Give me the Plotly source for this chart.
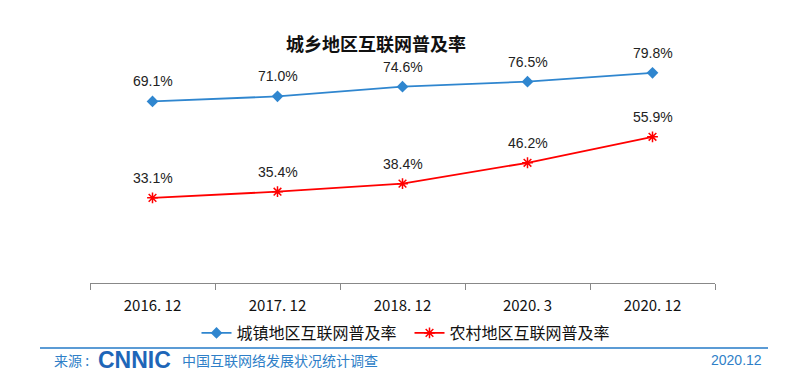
import plotly.graph_objects as go

categories = ["2016. 12", "2017. 12", "2018. 12", "2020. 3", "2020. 12"]
urban = [69.1, 71.0, 74.6, 76.5, 79.8]
rural = [33.1, 35.4, 38.4, 46.2, 55.9]
urban_name = "城镇地区互联网普及率"
rural_name = "农村地区互联网普及率"
title = "城乡地区互联网普及率"

FONT = "Noto Sans CJK SC"
OFF = 8  # default page body margin
W, H = 800 - OFF, 381 - OFF
ML, MR, MT, MB = 90 - OFF, 85, 42 - OFF, 98
PW = W - ML - MR
PH = H - MT - MB

def py(Y):  # target page pixel y -> paper y
    return (H - MB - (Y - OFF)) / PH

def px(X):
    return (X - OFF - ML) / PW

fig = go.Figure()

fig.add_trace(go.Scatter(x=categories, y=urban, name=urban_name, mode="lines+markers",
                         line=dict(color="#2f86cf", width=1.8),
                         marker=dict(symbol="diamond", size=9, color="#2f86cf")))
fig.add_trace(go.Scatter(x=categories, y=rural, name=rural_name, mode="lines+markers",
                         line=dict(color="#ff0000", width=1.8),
                         marker=dict(symbol="asterisk-open", size=9, color="#ff0000",
                                     line=dict(color="#ff0000", width=1.5))))

ann = []
for c, v in zip(categories, urban):
    ann.append(dict(x=c, y=v, text=f"{v:.1f}%", showarrow=False, yshift=20,
                    font=dict(family="Liberation Sans", size=14, color="#222")))
for c, v in zip(categories, rural):
    ann.append(dict(x=c, y=v, text=f"{v:.1f}%", showarrow=False, yshift=20,
                    font=dict(family="Liberation Sans", size=14, color="#222")))

ann.append(dict(x=px(376), y=py(43), xref="paper", yref="paper", text=f"<b>{title}</b>",
                yanchor="middle", showarrow=False, font=dict(family=FONT, size=18, color="#111")))
# footer
ann.append(dict(x=px(52), y=py(360), xref="paper", yref="paper", text="来源 :",
                xanchor="left", yanchor="middle", showarrow=False,
                font=dict(family=FONT, size=14, color="#2f7fc8")))
ann.append(dict(x=px(96), y=py(360), xref="paper", yref="paper", text="<b>CNNIC</b>",
                xanchor="left", yanchor="middle", showarrow=False,
                font=dict(family="Liberation Sans", size=23, color="#1e66b8")))
ann.append(dict(x=px(180), y=py(360), xref="paper", yref="paper", text="中国互联网络发展状况统计调查",
                xanchor="left", yanchor="middle", showarrow=False,
                font=dict(family=FONT, size=14, color="#2f7fc8")))
ann.append(dict(x=px(764), y=py(360), xref="paper", yref="paper", text="2020.12",
                xanchor="right", yanchor="middle", showarrow=False,
                font=dict(family="Liberation Sans", size=14, color="#2f7fc8")))

fig.update_layout(
    width=W, height=H,
    margin=dict(l=ML, r=MR, t=MT, b=MB, autoexpand=False),
    paper_bgcolor="white", plot_bgcolor="white",
    showlegend=True,
    legend=dict(orientation="h", x=0.5 + 7 / PW, xanchor="center", y=py(316), yanchor="top",
                font=dict(family=FONT, size=16, color="#111"), entrywidth=168,
                bgcolor="rgba(0,0,0,0)"),
    annotations=ann,
    shapes=[dict(type="line", xref="paper", yref="paper", x0=px(40), x1=px(768),
                 y0=py(348), y1=py(348), line=dict(color="#5b9bd5", width=2))],
    xaxis=dict(type="category", showline=True, linecolor="#888", linewidth=1.2,
               ticks="outside", tickson="boundaries", ticklen=6, tickcolor="#888",
               showgrid=False, tickfont=dict(family=FONT, size=15, color="#111"),
               ticklabelstandoff=9, range=[-0.5, 4.5]),
    yaxis=dict(range=[1.3, 91.3], visible=False, showgrid=False, zeroline=False),
)

fig.write_html("out.html")
